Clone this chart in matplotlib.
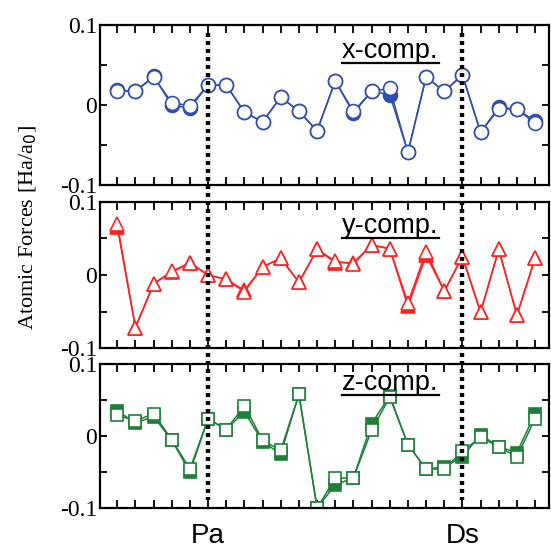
import numpy as np
import matplotlib
matplotlib.use("Agg")
from matplotlib import pyplot as plt, transforms
from matplotlib.lines import Line2D

# atom index along the chain, Pa and Ds positions
idx = np.arange(24)
pa_pos = 5
ds_pos = 19

# forces [Ha/a0], open = one calculation, filled = the other
x_open = [0.018, 0.017, 0.035, 0.003, -0.001, 0.025, 0.025, -0.009, -0.021, 0.010, -0.008, -0.032,
          0.030, -0.008, 0.017, 0.021, -0.059, 0.035, 0.017, 0.037, -0.034, -0.005, -0.005, -0.023]
x_filled = [0.019, 0.017, 0.036, 0.000, -0.004, 0.025, 0.025, -0.009, -0.021, 0.010, -0.008, -0.032,
            0.030, -0.010, 0.017, 0.013, -0.059, 0.035, 0.017, 0.038, -0.034, -0.003, -0.005, -0.020]

y_open = [0.070, -0.072, -0.012, 0.005, 0.017, 0.000, -0.006, -0.023, 0.011, 0.023, -0.010, 0.035,
          0.019, 0.015, 0.041, 0.036, -0.038, 0.032, -0.022, 0.025, -0.051, 0.035, -0.055, 0.023]
y_filled = [0.066, -0.072, -0.012, 0.004, 0.016, 0.000, -0.006, -0.021, 0.011, 0.023, -0.010, 0.035,
            0.017, 0.017, 0.041, 0.036, -0.043, 0.027, -0.022, 0.025, -0.051, 0.035, -0.055, 0.023]

z_open = [0.029, 0.021, 0.031, -0.005, -0.046, 0.024, 0.009, 0.042, -0.006, -0.020, 0.058, -0.100,
          -0.059, -0.058, 0.008, 0.054, -0.012, -0.046, -0.046, -0.021, -0.002, -0.015, -0.029, 0.024]
z_filled = [0.035, 0.018, 0.027, -0.006, -0.050, 0.024, 0.009, 0.034, -0.008, -0.025, 0.058, -0.100,
            -0.068, -0.058, 0.017, 0.056, -0.012, -0.046, -0.043, -0.029, 0.002, -0.015, -0.023, 0.031]

panels = [
    ("x-comp.", x_open, x_filled, "#2f4fae", "o", 10, [0.1815, 0.663, 0.815, 0.2914], 0.794),
    ("y-comp.", y_open, y_filled, "#ff2020", "^", 10.5, [0.1815, 0.3661, 0.815, 0.266], 0.788),
    ("z-comp.", z_open, z_filled, "#1e8038", "s", 9, [0.1815, 0.0747, 0.815, 0.2623], 0.819),
]

fig = plt.figure(figsize=(5.51, 5.49), dpi=100)
axes = []
for name, op, fl, col, mk, ms, pos, ty in panels:
    ax = fig.add_axes(pos)
    ax.plot(idx, fl, color=col, lw=1.1, marker=mk, ms=ms, mfc=col, mec=col, mew=1.2)
    ax.plot(idx, op, color=col, lw=1.1, marker=mk, ms=ms, mfc="white", mec=col, mew=1.2)
    ax.set_xlim(-0.95, 23.77)
    ax.set_ylim(-0.1, 0.1)
    ax.set_xticks(idx)
    ax.set_xticklabels([])
    ax.set_yticks([-0.1, 0, 0.1])
    ax.set_yticklabels(["-0.1", "0", "0.1"], family="Liberation Serif", fontsize=17)
    ax.set_yticks([-0.05, 0.05], minor=True)
    ax.tick_params(which="both", direction="in", top=True, right=True, width=1.3)
    ax.tick_params(axis="x", length=6)
    ax.tick_params(axis="y", which="both", length=5, pad=2)
    for s in ax.spines.values():
        s.set_linewidth(1.6)
    ax.text(0.539, ty, name, transform=ax.transAxes, family="Liberation Sans",
            fontsize=19.5, va="baseline", ha="left")
    axes.append(ax)

# underline the component labels
fig.canvas.draw()
r = fig.canvas.get_renderer()
for ax in axes:
    t = ax.texts[0]
    bb = t.get_window_extent(r).transformed(fig.transFigure.inverted())
    by = bb.y0 + 0.002
    fig.add_artist(Line2D([bb.x0, bb.x1], [by, by], transform=fig.transFigure, color="black", lw=1.6))

# dotted markers for Pa and Ds across all panels
tr = transforms.blended_transform_factory(axes[0].transData, fig.transFigure)
for xp in [pa_pos, ds_pos]:
    fig.add_artist(Line2D([xp, xp], [1 - 33 / 549, 1 - 500 / 549], transform=tr,
                          color="black", lw=3.2, ls=(0, (0.9, 0.9))))

for xp, lab in [(pa_pos, "Pa"), (ds_pos, "Ds")]:
    fig.text(xp, 6 / 549, lab, transform=tr, family="Liberation Sans", fontsize=20,
             ha="center", va="baseline")

fig.text(0.051, 0.585, "Atomic Forces [Ha/a$_0$]", family="Liberation Serif", fontsize=16,
         rotation=90, ha="center", va="center")

fig.savefig("out.png", dpi=100)
